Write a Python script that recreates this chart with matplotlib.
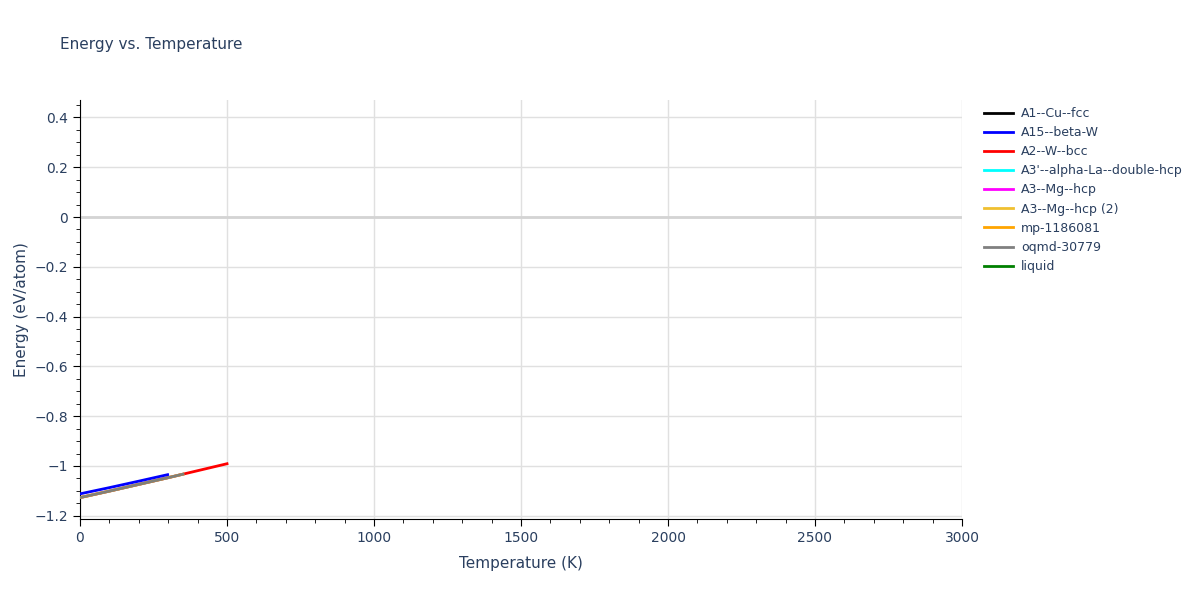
import matplotlib.pyplot as plt
from matplotlib.ticker import MultipleLocator

# energy curves (K, eV/atom)
t_red = [0, 100, 200, 300, 350, 400, 500]
e_red = [-1.127, -1.101, -1.074, -1.047, -1.033, -1.019, -0.991]
t_blue = [0, 100, 200, 298]
e_blue = [-1.112, -1.087, -1.061, -1.035]
t_gray = [0, 100, 200, 300, 350]
e_gray = [-1.127, -1.101, -1.074, -1.047, -1.033]

names = ["A1--Cu--fcc", "A15--beta-W", "A2--W--bcc", "A3'--alpha-La--double-hcp",
         "A3--Mg--hcp", "A3--Mg--hcp (2)", "mp-1186081", "oqmd-30779", "liquid"]
colors = ["black", "blue", "red", "cyan", "magenta", "#f0c030", "orange", "gray", "green"]

txt = "#2a3f5f"
fig = plt.figure(figsize=(12, 6), dpi=100)
ax = fig.add_axes([80/1200, 1 - 519/600, 882/1200, 419/600])

ax.axhline(0, color="#d4d4d4", lw=2, zorder=1)
ax.plot(t_red, e_red, color="red", lw=2, zorder=3)
ax.plot(t_gray, e_gray, color="#f0c030", lw=2, zorder=3)
ax.plot(t_gray, e_gray, color="#808078", lw=2, zorder=4)
ax.plot(t_blue, e_blue, color="blue", lw=2, zorder=4)

handles = []
for n, c in zip(names, colors):
    h, = ax.plot([], [], color=c, lw=2, label=n)
    handles.append(h)

ax.set_xlim(0, 3000)
ax.set_ylim(-1.213, 0.47)
ax.xaxis.set_major_locator(MultipleLocator(500))
ax.xaxis.set_minor_locator(MultipleLocator(100))
ax.yaxis.set_major_locator(MultipleLocator(0.2))
ax.yaxis.set_minor_locator(MultipleLocator(0.05))
ax.grid(True, which="major", color="#e0e0e0", lw=1, zorder=0)
ax.set_axisbelow(True)
for s in ["top", "right"]:
    ax.spines[s].set_visible(False)
for s in ["left", "bottom"]:
    ax.spines[s].set_color("black")
ax.tick_params(which="major", length=5, colors="black", labelcolor=txt, labelsize=10)
ax.tick_params(which="minor", length=3, colors="black")

fig.canvas.draw()
ax.set_yticklabels([("0" if abs(v) < 1e-9 else f"{v:g}").replace("-", "−") for v in ax.get_yticks()])

ax.set_xlabel("Temperature (K)", color=txt, fontsize=11, labelpad=8)
ax.set_ylabel("Energy (eV/atom)", color=txt, fontsize=11, labelpad=4)
fig.text(60/1200, 1 - 45/600, "Energy vs. Temperature", color=txt, fontsize=11, va="center")

fig.legend(handles=handles, loc="upper left", bbox_to_anchor=(984/1200, 1 - 107/600),
           frameon=False, fontsize=9, labelcolor=txt, handlelength=2.3,
           handletextpad=0.65, labelspacing=0.49, borderaxespad=0, borderpad=0)

plt.savefig("out.png")
